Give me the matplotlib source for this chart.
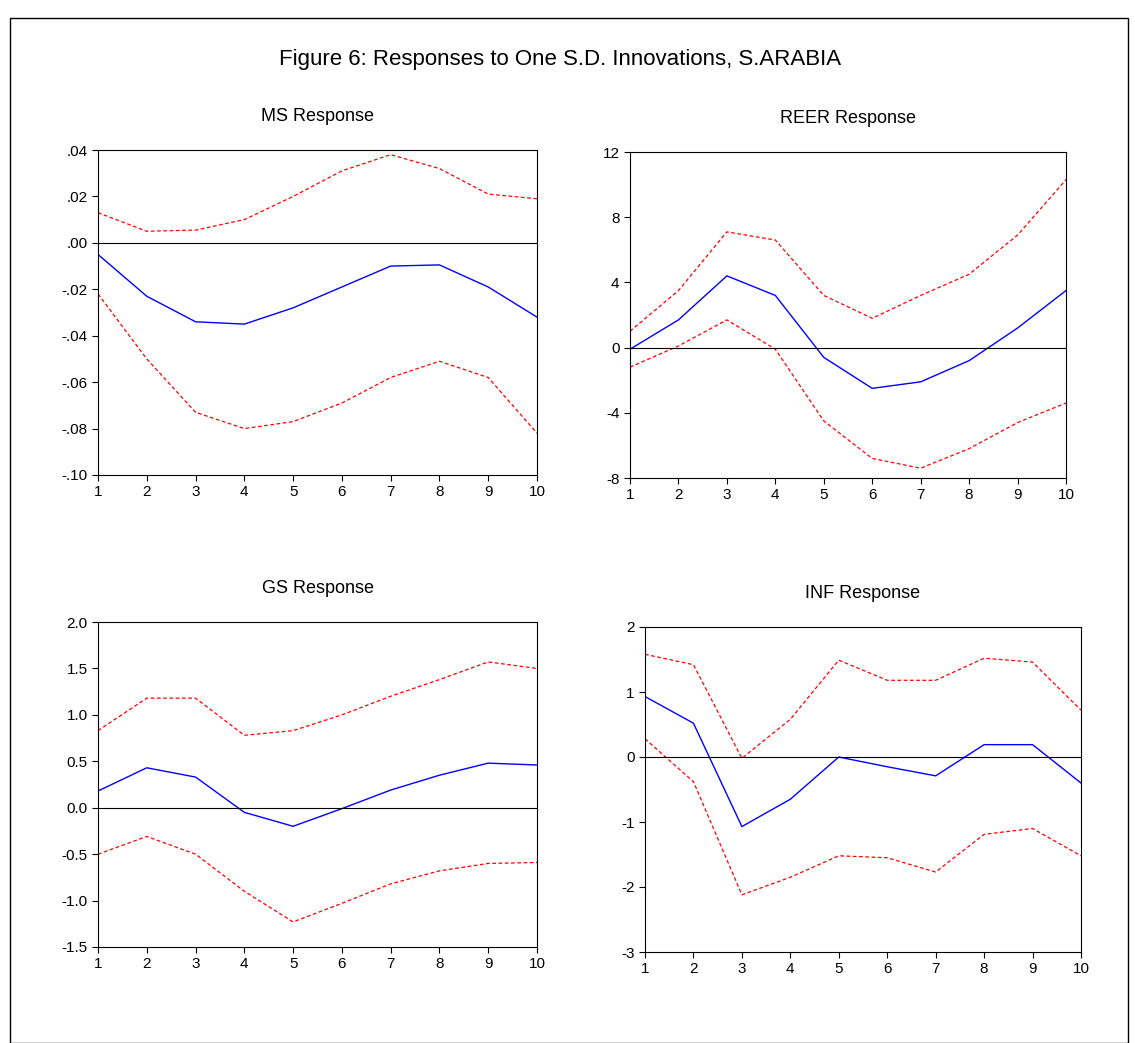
import numpy as np
import matplotlib.pyplot as plt
from matplotlib.ticker import FuncFormatter

plt.rcParams['font.family'] = ['Liberation Sans', 'DejaVu Sans']

steps = np.arange(1, 11)

ms_mid = [-0.005, -0.023, -0.034, -0.035, -0.028, -0.019, -0.010, -0.0095, -0.019, -0.032]
ms_up = [0.013, 0.005, 0.0055, 0.010, 0.020, 0.031, 0.038, 0.032, 0.021, 0.019]
ms_lo = [-0.022, -0.050, -0.073, -0.080, -0.077, -0.069, -0.058, -0.051, -0.058, -0.082]

reer_mid = [-0.1, 1.7, 4.4, 3.2, -0.6, -2.5, -2.1, -0.8, 1.2, 3.5]
reer_up = [1.0, 3.5, 7.1, 6.6, 3.2, 1.8, 3.2, 4.5, 6.9, 10.3]
reer_lo = [-1.2, 0.1, 1.7, -0.1, -4.5, -6.8, -7.4, -6.2, -4.6, -3.4]

gs_mid = [0.18, 0.43, 0.33, -0.05, -0.20, -0.01, 0.19, 0.35, 0.48, 0.46]
gs_up = [0.83, 1.18, 1.18, 0.78, 0.83, 1.0, 1.2, 1.38, 1.57, 1.5]
gs_lo = [-0.50, -0.31, -0.50, -0.90, -1.23, -1.03, -0.82, -0.68, -0.60, -0.59]

inf_mid = [0.93, 0.52, -1.07, -0.65, 0.0, -0.15, -0.29, 0.19, 0.19, -0.40]
inf_up = [1.58, 1.42, -0.02, 0.58, 1.49, 1.18, 1.18, 1.52, 1.46, 0.72]
inf_lo = [0.28, -0.38, -2.12, -1.85, -1.52, -1.55, -1.77, -1.19, -1.10, -1.52]

W, H = 1135, 1043
fig = plt.figure(figsize=(W / 100, H / 100), dpi=100)
fig.patches.append(plt.Rectangle((10 / W, 0), 1118 / W, 1 - 18 / H, transform=fig.transFigure,
                                 fill=False, edgecolor='black', linewidth=1))
fig.text(560 / W, 1 - 60 / H, 'Figure 6: Responses to One S.D. Innovations, S.ARABIA',
         ha='center', va='center', fontsize=16)

def strip0(fmt):
    def f(v, pos):
        s = fmt.format(v)
        if s.startswith('0.') and fmt.endswith('2f}'):
            s = s[1:]
        elif s.startswith('-0.') and fmt.endswith('2f}'):
            s = '-' + s[2:]
        return s
    return FuncFormatter(f)

panels = [
    ('MS Response', (98, 150, 537, 475), ms_mid, ms_up, ms_lo, (-0.10, 0.04), np.arange(-0.10, 0.041, 0.02), '{:.2f}'),
    ('REER Response', (630, 152, 1066, 478), reer_mid, reer_up, reer_lo, (-8, 12), np.arange(-8, 13, 4), '{:.0f}'),
    ('GS Response', (98, 622, 537, 947), gs_mid, gs_up, gs_lo, (-1.5, 2.0), np.arange(-1.5, 2.01, 0.5), '{:.1f}'),
    ('INF Response', (645, 627, 1081, 952), inf_mid, inf_up, inf_lo, (-3, 2), np.arange(-3, 3, 1), '{:.0f}'),
]

for title, (x0, y0, x1, y1), mid, up, lo, ylim, yt, fmt in panels:
    ax = fig.add_axes([x0 / W, 1 - y1 / H, (x1 - x0) / W, (y1 - y0) / H])
    ax.plot(steps, up, color='red', linestyle='--', linewidth=0.9, dashes=(3, 2))
    ax.plot(steps, lo, color='red', linestyle='--', linewidth=0.9, dashes=(3, 2))
    ax.plot(steps, mid, color='blue', linewidth=1.0)
    ax.axhline(0, color='black', linewidth=0.8)
    ax.set_xlim(1, 10)
    ax.set_ylim(*ylim)
    ax.set_xticks(steps)
    ax.set_yticks(yt)
    ax.yaxis.set_major_formatter(strip0(fmt))
    ax.tick_params(labelsize=11, length=4, direction='out')
    ax.set_title(title, fontsize=13, pad=21)

fig.savefig('out.png', dpi=100)
